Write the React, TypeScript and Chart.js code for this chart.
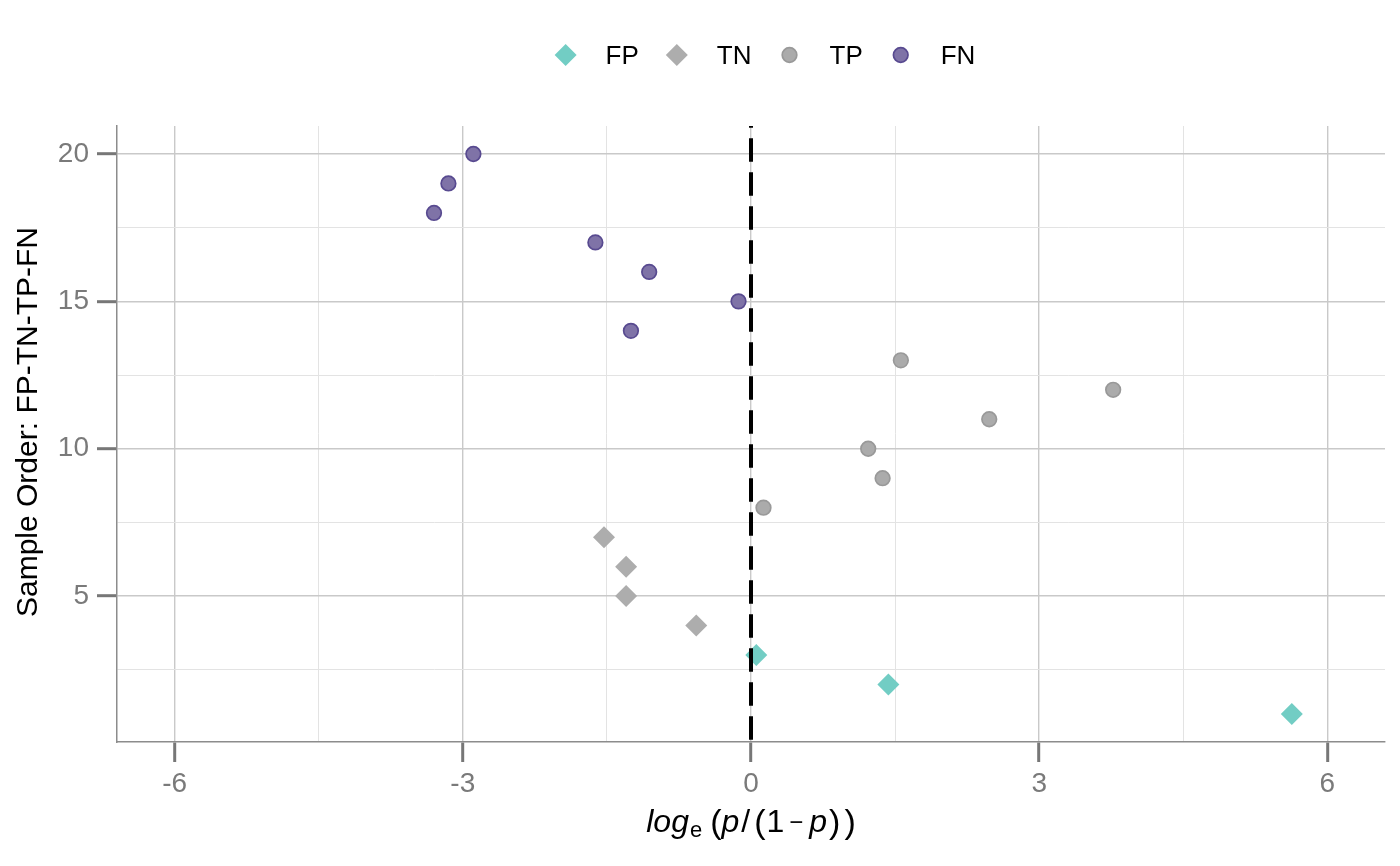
import { useEffect, useRef } from "react";
import { Chart, registerables } from "chart.js";

Chart.register(...registerables);

// ---- data ----
const SERIES_NAMES = ["FP", "TN", "TP", "FN"];
const FP_X = [5.63, 1.43, 0.055];
const FP_Y = [1, 2, 3];
const TN_X = [-0.57, -1.3, -1.3, -1.53];
const TN_Y = [4, 5, 6, 7];
const TP_X = [0.13, 1.37, 1.22, 2.48, 3.77, 1.56];
const TP_Y = [8, 9, 10, 11, 12, 13];
const FN_X = [-1.25, -0.13, -1.06, -1.62, -3.3, -3.15, -2.89];
const FN_Y = [14, 15, 16, 17, 18, 19, 20];

const X_TICKS = [-6, -4.5, -3, -1.5, 0, 1.5, 3, 4.5, 6];
const X_TICK_LABELS = ["-6", "", "-3", "", "0", "", "3", "", "6"];
const Y_TICKS = [2.5, 5, 7.5, 10, 12.5, 15, 17.5, 20];
const Y_TICK_LABELS = ["", "5", "", "10", "", "15", "", "20"];
const X_RANGE = [-6.6, 6.6];
const Y_RANGE = [0.05, 20.95];
const REFERENCE_X = 0;
const Y_TITLE = "Sample Order: FP-TN-TP-FN";

const FONT = "'Liberation Sans', Arial, Helvetica, sans-serif";

const STYLES = [
  { pointStyle: "rectRot", radius: 11, bg: "#72CDC4", border: "#72CDC4", bw: 0 },
  { pointStyle: "rectRot", radius: 11, bg: "#ADADAD", border: "#ADADAD", bw: 0 },
  { pointStyle: "circle", radius: 7.3, bg: "#ABABAB", border: "#999999", bw: 1.7 },
  { pointStyle: "circle", radius: 7.3, bg: "#7F73A7", border: "#584A90", bw: 1.7 },
];

const toPts = (xs: number[], ys: number[]) => xs.map((x, i) => ({ x, y: ys[i] }));

const xLabel = (v: number) => {
  const i = X_TICKS.findIndex((t) => Math.abs(t - v) < 1e-9);
  return i >= 0 ? X_TICK_LABELS[i] : "";
};
const yLabel = (v: number) => {
  const i = Y_TICKS.findIndex((t) => Math.abs(t - v) < 1e-9);
  return i >= 0 ? Y_TICK_LABELS[i] : "";
};

function drawMarker(ctx: CanvasRenderingContext2D, st: any, x: number, y: number) {
  ctx.save();
  ctx.beginPath();
  if (st.pointStyle === "rectRot") {
    const r = st.radius;
    ctx.moveTo(x - r, y);
    ctx.lineTo(x, y - r);
    ctx.lineTo(x + r, y);
    ctx.lineTo(x, y + r);
    ctx.closePath();
  } else {
    ctx.arc(x, y, st.radius, 0, Math.PI * 2);
  }
  ctx.fillStyle = st.bg;
  ctx.fill();
  if (st.bw > 0) {
    ctx.lineWidth = st.bw;
    ctx.strokeStyle = st.border;
    ctx.stroke();
  }
  ctx.restore();
}

// x-axis title pieces (flowing): text, font, extra gap after, baseline shift
const X_TITLE_PARTS = [
  { t: "log", f: `italic 32px ${FONT}`, gap: 1, dy: 0 },
  { t: "e", f: `22px ${FONT}`, gap: 8, dy: 5 },
  { t: "(", f: `34px ${FONT}`, gap: 0, dy: 1 },
  { t: "p", f: `italic 32px ${FONT}`, gap: 2, dy: 0 },
  { t: "/", f: `32px ${FONT}`, gap: 4, dy: 0 },
  { t: "(", f: `34px ${FONT}`, gap: 1, dy: 1 },
  { t: "1", f: `32px ${FONT}`, gap: 5, dy: 0 },
  { t: "\u2212", f: `24px ${FONT}`, gap: 6, dy: -2 },
  { t: "p", f: `italic 32px ${FONT}`, gap: 2, dy: 0 },
  { t: ")", f: `34px ${FONT}`, gap: 4, dy: 1 },
  { t: ")", f: `34px ${FONT}`, gap: 0, dy: 1 },
];

const overlayPlugin = {
  id: "overlay",
  afterDatasetsDraw(chart: any) {
    const { ctx, chartArea, scales } = chart;
    const x0 = scales.x.getPixelForValue(REFERENCE_X);
    ctx.save();
    ctx.strokeStyle = "#000000";
    ctx.lineWidth = 4;
    ctx.setLineDash([23.4, 10.6]);
    ctx.lineDashOffset = 21.7;
    ctx.beginPath();
    ctx.moveTo(x0, chartArea.top);
    ctx.lineTo(x0, chartArea.bottom);
    ctx.stroke();
    ctx.restore();
  },
  afterDraw(chart: any) {
    const { ctx, chartArea } = chart;
    const cx = (chartArea.left + chartArea.right) / 2;
    ctx.save();
    // legend
    ctx.font = `26px ${FONT}`;
    ctx.fillStyle = "#000000";
    ctx.textAlign = "left";
    ctx.textBaseline = "alphabetic";
    const widths = SERIES_NAMES.map((n) => ctx.measureText(n).width);
    let total = 11;
    widths.forEach((w, i) => {
      total += 40 + w + (i < widths.length - 1 ? 38 : 0);
    });
    let pos = cx + 14 - total / 2 + 11;
    const ly = 55;
    SERIES_NAMES.forEach((name, i) => {
      drawMarker(ctx, STYLES[i], pos, ly);
      ctx.fillStyle = "#000000";
      ctx.fillText(name, pos + 40, ly + 9);
      pos += 40 + widths[i] + 38;
    });

    // y title
    ctx.save();
    ctx.translate(37, (chartArea.top + chartArea.bottom) / 2 - 12);
    ctx.rotate(-Math.PI / 2);
    ctx.font = `30px ${FONT}`;
    ctx.textAlign = "center";
    ctx.fillStyle = "#000000";
    ctx.fillText(Y_TITLE, 0, 0);
    ctx.restore();

    // x title: log_e (p/(1 - p))
    const ty = 832;
    ctx.textAlign = "left";
    ctx.fillStyle = "#000000";
    let tw = 0;
    const ws = X_TITLE_PARTS.map((s, i) => {
      ctx.font = s.f;
      const w = ctx.measureText(s.t).width;
      tw += w + (i < X_TITLE_PARTS.length - 1 ? s.gap : 0);
      return w;
    });
    let tx = cx - tw / 2;
    X_TITLE_PARTS.forEach((s, i) => {
      ctx.font = s.f;
      ctx.fillText(s.t, tx, ty + s.dy);
      tx += ws[i] + s.gap;
    });
    ctx.restore();
  },
};

export default function App() {
  const ref = useRef<HTMLCanvasElement | null>(null);

  useEffect(() => {
    if (!ref.current) return;
    document.body.style.margin = "0";
    Chart.defaults.font.family = FONT;
    const series = [toPts(FP_X, FP_Y), toPts(TN_X, TN_Y), toPts(TP_X, TP_Y), toPts(FN_X, FN_Y)];
    const chart = new Chart(ref.current, {
      type: "scatter",
      data: {
        datasets: series.map((d, i) => ({
          label: SERIES_NAMES[i],
          data: d,
          pointStyle: STYLES[i].pointStyle as any,
          pointRadius: STYLES[i].radius,
          pointHoverRadius: STYLES[i].radius,
          backgroundColor: STYLES[i].bg,
          borderColor: STYLES[i].border,
          borderWidth: STYLES[i].bw,
        })),
      },
      options: {
        animation: false,
        responsive: false,
        devicePixelRatio: 1,
        layout: { padding: { top: 126, right: 15, left: 0, bottom: 0 } },
        plugins: {
          legend: { display: false },
          tooltip: { enabled: false },
        },
        scales: {
          x: {
            type: "linear",
            min: X_RANGE[0],
            max: X_RANGE[1],
            afterBuildTicks: (s: any) => {
              s.ticks = X_TICKS.map((v) => ({ value: v }));
            },
            afterFit: (s: any) => {
              s.height = 124;
            },
            ticks: {
              autoSkip: false,
              maxRotation: 0,
              padding: 5,
              color: "#7a7a7a",
              font: { size: 28, family: FONT },
              callback: (v: any) => xLabel(Number(v)),
            },
            grid: {
              color: (c: any) => (xLabel(c.tick?.value) ? "#c9c9c9" : "#e3e3e3"),
              lineWidth: (c: any) => (xLabel(c.tick?.value) ? 1.4 : 1),
              tickColor: (c: any) => (xLabel(c.tick?.value) ? "#777777" : "rgba(0,0,0,0)"),
              tickWidth: 3,
              tickLength: 20,
              drawTicks: true,
            },
            border: { display: true, color: "#8c8c8c", width: 1.5 },
          },
          y: {
            type: "linear",
            min: Y_RANGE[0],
            max: Y_RANGE[1],
            afterBuildTicks: (s: any) => {
              s.ticks = Y_TICKS.map((v) => ({ value: v }));
            },
            afterFit: (s: any) => {
              s.width = 117;
            },
            ticks: {
              autoSkip: false,
              padding: 8,
              color: "#7a7a7a",
              font: { size: 28, family: FONT },
              callback: (v: any) => yLabel(Number(v)),
            },
            grid: {
              color: (c: any) => (yLabel(c.tick?.value) ? "#c9c9c9" : "#e3e3e3"),
              lineWidth: (c: any) => (yLabel(c.tick?.value) ? 1.4 : 1),
              tickColor: (c: any) => (yLabel(c.tick?.value) ? "#777777" : "rgba(0,0,0,0)"),
              tickWidth: 3,
              tickLength: 20,
              drawTicks: true,
            },
            border: { display: true, color: "#8c8c8c", width: 1.5 },
          },
        },
      },
      plugins: [overlayPlugin],
    });
    return () => chart.destroy();
  }, []);

  return (
    <div style={{ position: "absolute", left: 0, top: 0, width: 1400, height: 866, background: "#ffffff" }}>
      <canvas ref={ref} width={1400} height={866} style={{ width: 1400, height: 866, display: "block" }} />
    </div>
  );
}
